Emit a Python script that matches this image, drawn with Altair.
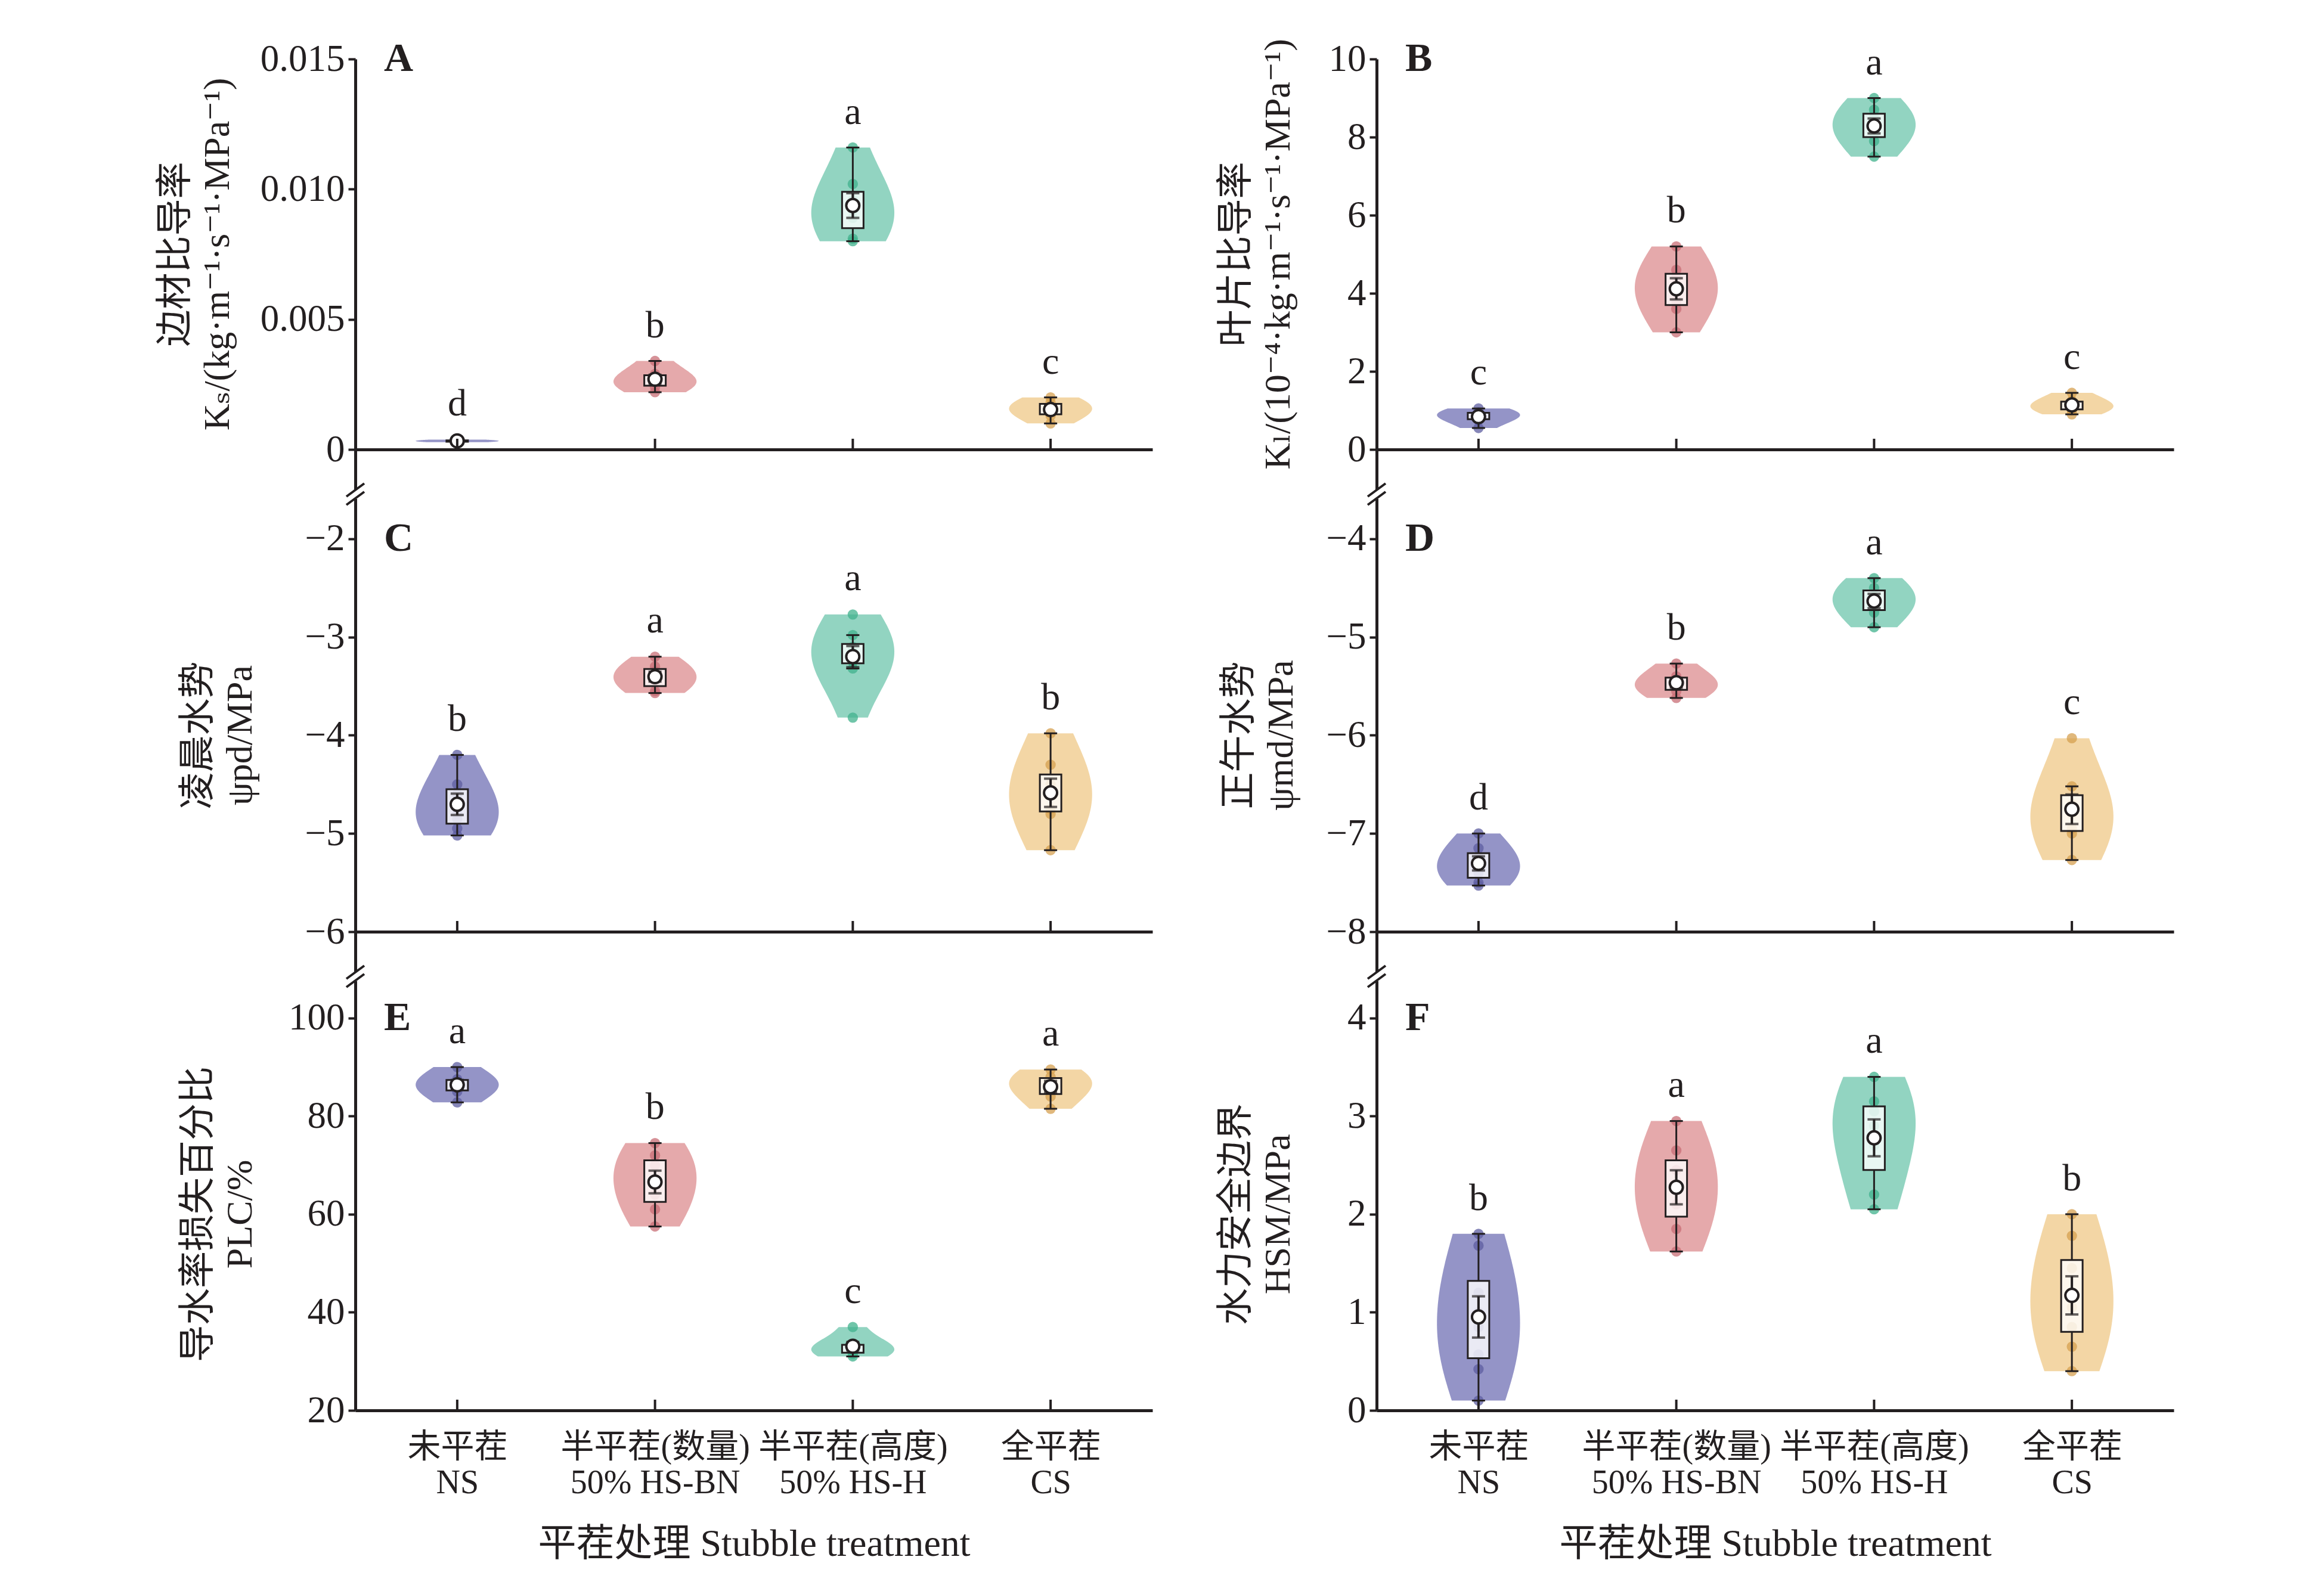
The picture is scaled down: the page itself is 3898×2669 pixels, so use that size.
import altair as alt
import pandas as pd

FONT = "Liberation Serif, DejaVu Serif, Noto Sans CJK SC"
INK = "#231f20"

# treatment groups (x positions 0..3)
group_labels = [["未平茬", "NS"], ["半平茬(数量)", "50% HS-BN"],
                ["半平茬(高度)", "50% HS-H"], ["全平茬", "CS"]]
violin_colors = ["#8e8ec4", "#e4a4a6", "#8cd2be", "#f2d4a0"]
point_colors = ["#5e5ea0", "#c86e76", "#40b28c", "#d6a050"]

# A  sapwood specific conductivity Ks
ks_ns = [0.00028, 0.00030, 0.00033, 0.00035, 0.00038]
ks_bn = [0.0022, 0.0024, 0.0026, 0.0027, 0.0029, 0.0034]
ks_h = [0.0080, 0.0081, 0.0089, 0.0092, 0.0096, 0.0102, 0.0116]
ks_cs = [0.0010, 0.0013, 0.0015, 0.0016, 0.0018, 0.0020]
ks_sig = ["d", "b", "a", "c"]
ks_ticks = [0, 0.005, 0.010, 0.015]

# B  leaf specific conductivity Kl
kl_ns = [0.55, 0.75, 0.85, 0.90, 0.95, 1.05]
kl_bn = [3.0, 3.6, 3.8, 4.2, 4.4, 4.6, 5.2]
kl_h = [7.5, 7.9, 8.1, 8.3, 8.5, 8.7, 9.0]
kl_cs = [0.9, 1.0, 1.1, 1.15, 1.25, 1.45]
kl_sig = ["c", "b", "a", "c"]
kl_ticks = [0, 2, 4, 6, 8, 10]

# C  predawn water potential
pd_ns = [-5.02, -4.95, -4.85, -4.8, -4.6, -4.5, -4.2]
pd_bn = [-3.57, -3.55, -3.45, -3.4, -3.35, -3.3, -3.2]
pd_h = [-3.82, -3.32, -3.25, -3.2, -3.15, -3.1, -2.98, -2.77]
pd_cs = [-5.17, -4.8, -4.75, -4.6, -4.5, -4.3, -3.98]
pd_sig = ["b", "a", "a", "b"]
pd_ticks = [-6, -5, -4, -3, -2]

# D  midday water potential
md_ns = [-7.53, -7.5, -7.4, -7.3, -7.25, -7.15, -7.0]
md_bn = [-5.62, -5.55, -5.5, -5.45, -5.4, -5.27]
md_h = [-4.9, -4.75, -4.65, -4.6, -4.5, -4.4]
md_cs = [-7.27, -7.0, -6.95, -6.8, -6.7, -6.52, -6.03]
md_sig = ["d", "b", "a", "c"]
md_ticks = [-8, -7, -6, -5, -4]

# E  percentage loss of conductivity
plc_ns = [82.8, 85, 86, 87, 87.5, 90]
plc_bn = [57.5, 61, 64, 67, 70, 72, 74.5]
plc_h = [31, 31.5, 32.5, 33, 33.5, 37]
plc_cs = [81.5, 84, 86, 87, 88, 89.5]
plc_sig = ["a", "b", "c", "a"]
plc_ticks = [20, 40, 60, 80, 100]

# F  hydraulic safety margin
hsm_ns = [0.1, 0.42, 0.57, 0.85, 1.0, 1.2, 1.68, 1.8]
hsm_bn = [1.62, 1.85, 2.1, 2.3, 2.45, 2.65, 2.95]
hsm_h = [2.05, 2.2, 2.7, 2.9, 3.05, 3.15, 3.4]
hsm_cs = [0.4, 0.65, 0.85, 1.05, 1.2, 1.45, 1.78, 2.0]
hsm_sig = ["b", "a", "a", "b"]
hsm_ticks = [0, 1, 2, 3, 4]

W = 1337
ROW_H = [655, 809, 803]
HALF = 0.21  # half width of a violin, in category units
BREAK_Y = 75

label_expr = "[" + ",".join("['%s','%s']" % (a, b) for a, b in group_labels) + "][datum.value]"


def make_panel(key, series, sig, ticks, top, fmt, title, title_x, height, bottom, broken):
    rows = [{"g": i, "v": v, "sig": sig[i]} for i, vals in enumerate(series) for v in vals]
    df = pd.DataFrame(rows)
    t0, t1 = ticks[0], ticks[-1]
    d1 = top if top is not None else t1
    xs = alt.Scale(domain=[-0.5, 3.5], nice=False, zero=False)
    ys = alt.Scale(domain=[t0, d1], nice=False, zero=False)
    title_y = height * (d1 - (t0 + t1) / 2) / (d1 - t0)

    y_axis = alt.Axis(values=ticks, format=".3f" if fmt == "ks" else "d",
                      labelExpr="datum.value == 0 ? '0' : datum.label", title=None)

    if bottom:
        x_axis = alt.Axis(values=[0, 1, 2, 3], ticks=False, labelExpr=label_expr,
                          labelFontSize=56, labelLineHeight=60, labelPadding=34, labelLimit=0,
                          title="平茬处理 Stubble treatment", titleFontSize=64,
                          titleY=224, titleBaseline="middle")
    else:
        x_axis = alt.Axis(values=[0, 1, 2, 3], ticks=False, labels=False, title=None)

    layers = []
    for i, vals in enumerate(series):
        bw = 0.35 * (max(vals) - min(vals))
        if i == 0:
            yenc = alt.Y("v:Q", scale=ys, axis=y_axis)
            xenc = alt.X("xl:Q", scale=xs, axis=x_axis)
        else:
            yenc = alt.Y("v:Q", scale=ys)
            xenc = alt.X("xl:Q", scale=xs)
        layers.append(
            alt.Chart(df).transform_filter(alt.datum.g == i)
            .transform_density("v", as_=["v", "dens"], extent=[min(vals), max(vals)],
                               bandwidth=bw, steps=100)
            .transform_joinaggregate(dmax="max(dens)")
            .transform_calculate(xl=f"{i} - {HALF} * datum.dens / datum.dmax",
                                 xr=f"{i} + {HALF} * datum.dens / datum.dmax")
            .mark_area(orient="horizontal", color=violin_colors[i], opacity=0.95)
            .encode(y=yenc, x=xenc, x2="xr:Q")
        )

    xg = alt.X("g:Q", scale=xs)
    yv = alt.Y("v:Q", scale=ys)

    points = alt.Chart(df).mark_circle(size=300, opacity=0.75).encode(
        x=xg, y=yv,
        color=alt.Color("g:N", scale=alt.Scale(domain=[0, 1, 2, 3], range=point_colors), legend=None))

    box = alt.Chart(df).mark_boxplot(
        extent=1.5, size=36, orient="vertical", outliers=False, median=False,
        box={"color": "white", "fillOpacity": 0.8, "stroke": INK, "strokeWidth": 3},
        rule={"color": INK, "strokeWidth": 3},
        ticks={"color": INK, "size": 22, "thickness": 3},
    ).encode(x=xg, y=yv)

    err = alt.Chart(df).mark_errorbar(
        extent="stderr", ticks=True, orient="vertical", color=INK, thickness=4, size=22
    ).encode(x=xg, y=yv)

    mean = alt.Chart(df).mark_circle(fill="white", stroke=INK, strokeWidth=4, size=480, opacity=1).encode(
        x=xg, y=alt.Y("mean(v):Q", scale=ys))

    off = 0.09 * (t1 - t0)
    letters = alt.Chart(df).transform_aggregate(vmax="max(v)", groupby=["g", "sig"]).transform_calculate(
        ly=f"datum.vmax + {off}"
    ).mark_text(font=FONT, fontSize=64, color=INK, baseline="middle").encode(
        x=xg, y=alt.Y("ly:Q", scale=ys), text="sig:N")

    xticks = alt.Chart(pd.DataFrame({"g": [0, 1, 2, 3]})).mark_rule(color=INK, strokeWidth=4).encode(
        x=xg, y=alt.value(height), y2=alt.value(height - 18))

    tag = alt.Chart(pd.DataFrame({"t": [key]})).mark_text(
        font=FONT, fontSize=68, fontWeight="bold", align="left", baseline="middle", color=INK
    ).encode(text="t:N", x=alt.value(48), y=alt.YDatum(t1, type="quantitative"))

    # two-line rotated y title
    ytitle = []
    for j, line in enumerate(title):
        ytitle.append(
            alt.Chart(pd.DataFrame({"t": [line]})).mark_text(
                font=FONT, fontSize=62, color=INK, angle=270, align="center", baseline="middle"
            ).encode(text="t:N", x=alt.value(title_x + 35 + 70 * j), y=alt.value(title_y))
        )

    parts = layers + [points, box, err, mean, letters, xticks, tag] + ytitle

    if broken:
        one = pd.DataFrame({"k": [0]})
        gap = alt.Chart(one).mark_rule(color="white", strokeWidth=14).encode(
            x=alt.value(0), y=alt.value(BREAK_Y - 8), y2=alt.value(BREAK_Y + 8))
        s1 = alt.Chart(one).mark_rule(color=INK, strokeWidth=4).encode(
            x=alt.value(-15), x2=alt.value(15), y=alt.value(BREAK_Y - 7 + 11), y2=alt.value(BREAK_Y - 7 - 11))
        s2 = alt.Chart(one).mark_rule(color=INK, strokeWidth=4).encode(
            x=alt.value(-15), x2=alt.value(15), y=alt.value(BREAK_Y + 7 + 11), y2=alt.value(BREAK_Y + 7 - 11))
        parts += [gap, s1, s2]

    return alt.layer(*parts).properties(width=W, height=height)


pA = make_panel("A", [ks_ns, ks_bn, ks_h, ks_cs], ks_sig, ks_ticks, None, "ks",
                ["边材比导率", "Kₛ/(kg·m⁻¹·s⁻¹·MPa⁻¹)"], -336, ROW_H[0], False, False)
pB = make_panel("B", [kl_ns, kl_bn, kl_h, kl_cs], kl_sig, kl_ticks, None, "d",
                ["叶片比导率", "Kₗ/(10⁻⁴·kg·m⁻¹·s⁻¹·MPa⁻¹)"], -270, ROW_H[0], False, False)
pC = make_panel("C", [pd_ns, pd_bn, pd_h, pd_cs], pd_sig, pd_ticks, -1.09, "d",
                ["凌晨水势", "ψpd/MPa"], -298, ROW_H[1], False, True)
pD = make_panel("D", [md_ns, md_bn, md_h, md_cs], md_sig, md_ticks, -3.09, "d",
                ["正午水势", "ψmd/MPa"], -265, ROW_H[1], False, True)
pE = make_panel("E", [plc_ns, plc_bn, plc_h, plc_cs], plc_sig, plc_ticks, 117.6, "d",
                ["导水率损失百分比", "PLC/%"], -298, ROW_H[2], True, True)
pF = make_panel("F", [hsm_ns, hsm_bn, hsm_h, hsm_cs], hsm_sig, hsm_ticks, 4.88, "d",
                ["水力安全边界", "HSM/MPa"], -270, ROW_H[2], True, True)

# columns stack panels edge to edge; only the plot areas count for the stacking
left = alt.vconcat(pA, pC, pE, spacing=0, bounds="flush")
right = alt.vconcat(pB, pD, pF, spacing=0, bounds="flush")

chart = alt.hconcat(left, right, spacing=109).properties(
    padding={"left": 256, "top": 57, "right": 20, "bottom": 20}
).configure_view(stroke=None).configure_axis(
    domainColor=INK, domainWidth=5, tickColor=INK, tickWidth=4, tickSize=12,
    labelColor=INK, titleColor=INK, labelFont=FONT, titleFont=FONT,
    labelFontSize=63, titleFontWeight="normal", grid=False, labelOverlap=False, labelPadding=6,
)

chart.save("out.html", embed_options={"renderer": "svg", "actions": False})
